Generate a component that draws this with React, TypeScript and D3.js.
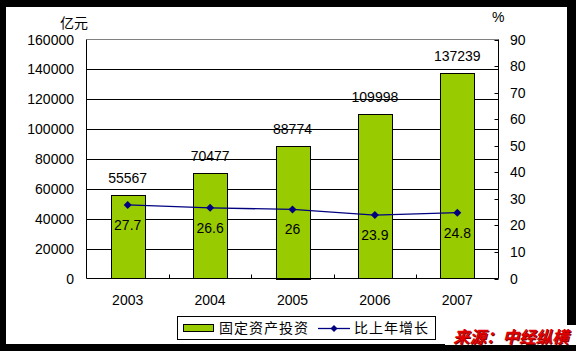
import React from "react";
import * as d3 from "d3";

const years = ["2003", "2004", "2005", "2006", "2007"];
const investment = [55567, 70477, 88774, 109998, 137239];
const growth = [27.7, 26.6, 26, 23.9, 24.8];
const leftTicks = [0, 20000, 40000, 60000, 80000, 100000, 120000, 140000, 160000];
const rightTicks = [0, 10, 20, 30, 40, 50, 60, 70, 80, 90];

const W = 576, H = 351;
const left = 86.5, right = 498.5, top = 39.5, bottom = 278.5;
const latin = "'Liberation Sans', Arial, sans-serif";
const cjk = "'Noto Sans CJK SC', sans-serif";

export default function App() {
  const x = d3.scaleBand<string>().domain(years).range([left, right]).paddingInner(0.59).paddingOuter(0.295);
  const yL = d3.scaleLinear().domain([0, 160000]).range([bottom, top]);
  const yR = d3.scaleLinear().domain([0, 90]).range([bottom, top]);
  const cx = (y: string) => (x(y) as number) + x.bandwidth() / 2;
  const line = d3.line<number>().x((_, i) => cx(years[i])).y(d => yR(d));
  const step = (right - left) / years.length;
  const diamond = (px: number, py: number, s = 4) => `M${px},${py - s}L${px + s},${py}L${px},${py + s}L${px - s},${py}Z`;

  return (
    <svg width={W} height={H} style={{ position: "absolute", left: 0, top: 0 }}>
      <rect x={0} y={0} width={W} height={H} fill="#000" />
      <rect x={6} y={7} width={561} height={337} fill="#fff" />
      <rect x={445} y={325} width={131} height={20} fill="#fff" />
      {/* gridlines */}
      {leftTicks.slice(1, -1).map(t => (
        <line key={t} x1={left} x2={right} y1={Math.round(yL(t)) + 0.5} y2={Math.round(yL(t)) + 0.5} stroke="#000" />
      ))}
      <line x1={left} x2={right} y1={top} y2={top} stroke="#808080" />
      {/* bars */}
      {investment.map((v, i) => (
        <rect key={i} x={Math.round(x(years[i]) as number) + 0.5} y={Math.round(yL(v)) + 0.5}
          width={Math.round(x.bandwidth())} height={Math.round(bottom - yL(v))} fill="#99CC00" stroke="#000" />
      ))}
      {/* axes */}
      <line x1={left} x2={left} y1={top} y2={bottom} stroke="#000" />
      <line x1={right} x2={right} y1={top} y2={bottom} stroke="#000" />
      <line x1={left} x2={right} y1={bottom} y2={bottom} stroke="#000" />
      {rightTicks.map(t => (
        <line key={t} x1={right - 4} x2={right} y1={Math.round(yR(t)) + 0.5} y2={Math.round(yR(t)) + 0.5} stroke="#000" />
      ))}
      {years.slice(1).map((_, i) => (
        <line key={i} x1={Math.round(left + step * (i + 1)) + 0.5} x2={Math.round(left + step * (i + 1)) + 0.5} y1={bottom - 4} y2={bottom} stroke="#000" />
      ))}
      {/* tick labels */}
      {leftTicks.map(t => (
        <text key={t} x={74} y={yL(t) + 5} textAnchor="end" fontFamily={latin} fontSize={14} fill="#000">{t}</text>
      ))}
      {rightTicks.map(t => (
        <text key={t} x={510} y={yR(t) + 5} textAnchor="start" fontFamily={latin} fontSize={14} fill="#000">{t}</text>
      ))}
      {years.map(y => (
        <text key={y} x={cx(y)} y={305} textAnchor="middle" fontFamily={latin} fontSize={14} fill="#000">{y}</text>
      ))}
      <text x={60} y={28} fontFamily={cjk} fontSize={14} fill="#000">亿元</text>
      <text x={492} y={22} fontFamily={latin} fontSize={14} fill="#000">%</text>
      {/* bar labels */}
      {investment.map((v, i) => (
        <text key={i} x={cx(years[i])} y={yL(v) - 12} textAnchor="middle" fontFamily={latin} fontSize={14} fill="#000">{v}</text>
      ))}
      {/* line */}
      <path d={line(growth) as string} fill="none" stroke="#000080" strokeWidth={1.3} />
      {growth.map((g, i) => (
        <path key={i} d={diamond(cx(years[i]), yR(g))} fill="#000080" />
      ))}
      {growth.map((g, i) => (
        <text key={i} x={cx(years[i])} y={yR(g) + 25} textAnchor="middle" fontFamily={latin} fontSize={14} fill="#000">{g}</text>
      ))}
      {/* legend */}
      <rect x={177.5} y={316.5} width={258} height={23} fill="#fff" stroke="#000" />
      <rect x={183.5} y={324.5} width={30} height={7} fill="#99CC00" stroke="#000" />
      <text x={219} y={333} fontFamily={cjk} fontSize={14} letterSpacing={1} fill="#000">固定资产投资</text>
      <line x1={318} x2={350} y1={328.5} y2={328.5} stroke="#000080" strokeWidth={1.3} />
      <path d={diamond(334, 328.5, 3.5)} fill="#000080" />
      <text x={354} y={333} fontFamily={cjk} fontSize={14} letterSpacing={1} fill="#000">比上年增长</text>
      {/* source */}
      <text x={454} y={344} fontFamily={cjk} fontSize={16.5} fontWeight="bold" fontStyle="italic" fill="#7a0000">来源：中经纵横</text>
      <text x={453} y={343} fontFamily={cjk} fontSize={16.5} fontWeight="bold" fontStyle="italic" fill="#e00000">来源：中经纵横</text>
    </svg>
  );
}
